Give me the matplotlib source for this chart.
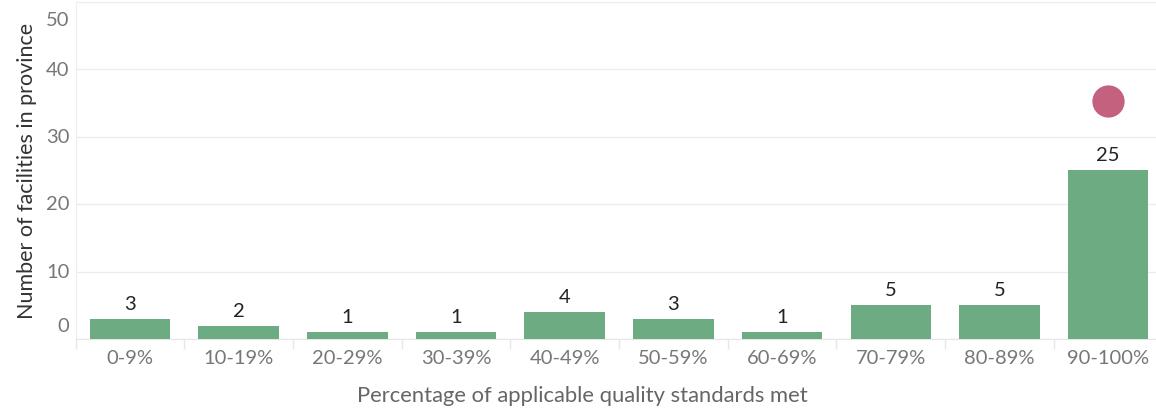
import matplotlib.pyplot as plt

# data
categories = ["0-9%", "10-19%", "20-29%", "30-39%", "40-49%",
              "50-59%", "60-69%", "70-79%", "80-89%", "90-100%"]
counts = [3, 2, 1, 1, 4, 3, 1, 5, 5, 25]
marker_category = "90-100%"
marker_value = 35.3
y_ticks = [0, 10, 20, 30, 40, 50]

plt.rcParams['font.family'] = ['Lato', 'DejaVu Sans']

fig = plt.figure(figsize=(11.56, 4.10), dpi=100)
ax = fig.add_axes([75.6 / 1156, 70 / 410, (1162.5 - 75.6) / 1156, 337.5 / 410])

x = list(range(len(categories)))
ax.bar(x, counts, width=0.74, color="#6dab82", zorder=3)
for xi, c in zip(x, counts):
    ax.text(xi, c + 1.0, str(c), ha="center", va="bottom",
            fontsize=14.5, color="#222222", zorder=4)

mi = categories.index(marker_category)
ax.scatter([mi], [marker_value], s=540, color="#c4617f", zorder=5, linewidths=0)

ax.set_xlim(-0.5, len(categories) - 0.5)
ax.set_ylim(0, 50)

# gridlines
ax.set_yticks(y_ticks)
ax.yaxis.grid(True, color="#ececec", linewidth=1, zorder=0)
ax.set_yticklabels([])
ax.tick_params(axis="y", length=0)
for t in y_ticks:
    if t == y_ticks[0]:
        va, dy = "bottom", 3.5
    elif t == y_ticks[-1]:
        va, dy = "top", -6.5
    else:
        va, dy = "center", 0
    ax.annotate(str(t), xy=(0, t), xycoords=("axes fraction", "data"),
                xytext=(-4.5, dy), textcoords="offset points",
                ha="right", va=va, fontsize=14.5, color="#777777")

# category boundaries as small ticks
ax.set_xticks([i - 0.5 for i in range(len(categories) + 1)], minor=True)
ax.tick_params(axis="x", which="minor", length=7, color="#e6e6e6", width=1)
ax.set_xticks(x)
ax.set_xticklabels(categories, fontsize=14.5, color="#777777")
ax.tick_params(axis="x", which="major", length=0, pad=7)

for side in ["top", "right"]:
    ax.spines[side].set_visible(False)
ax.spines["bottom"].set_color("#e6e6e6")
ax.spines["left"].set_color("#eeeeee")

ax.set_xlabel("Percentage of applicable quality standards met",
              fontsize=15.8, color="#666666", va="center")
ax.xaxis.set_label_coords(0.466, -0.166)
ax.set_ylabel("Number of facilities in province",
              fontsize=15.5, color="#333333", labelpad=24)

fig.savefig("out.png", dpi=100)
